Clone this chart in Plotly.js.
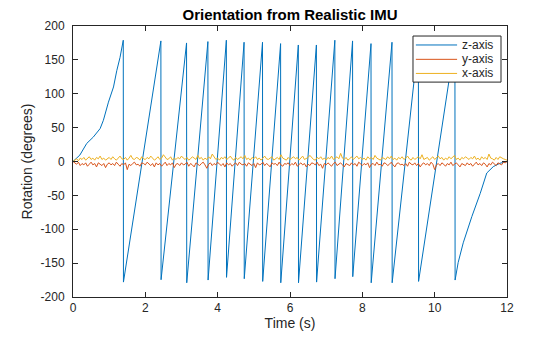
<!DOCTYPE html>
<html>
<head>
<meta charset="utf-8">
<script src="https://cdn.plot.ly/plotly-3.0.1.min.js"></script>
<style>html,body{margin:0;padding:0;background:#fff;}#chart{width:560px;height:337px;}</style>
</head>
<body>
<div id="chart"></div>
<script>
// z-axis orientation (degrees), wrapping at +/-180
const zTime = [0, 0.19, 0.38, 0.56, 0.75, 0.84, 0.98, 1.12, 1.21, 1.30, 1.39,
  1.395, 2.43, 2.435, 3.14, 3.145, 3.73, 3.735, 4.24, 4.245, 4.73, 4.735, 5.24, 5.245,
  5.74, 5.745, 6.23, 6.235, 6.73, 6.735, 7.24, 7.245, 7.73, 7.735, 8.24, 8.245,
  8.82, 8.825, 9.55, 9.555, 10.56, 10.565, 10.65, 10.79, 11.03, 11.26, 11.44, 11.62, 11.80, 12.0];
const zVal = [0, 9.5, 26.7, 36, 48.6, 60.8, 87.6, 110, 134, 153.6, 179,
  -178, 178, -174.5, 175, -179, 177, -175, 179, -171, 176, -173, 176, -177,
  174, -179, 172, -179, 172, -178, 179, -173, 178, -170, 174, -179,
  176, -179, 178, -177, 177, -175, -149, -120, -81, -47, -17, -7.6, -2.7, 0];

// noisy x-axis and y-axis orientation (degrees), one value every 0.05 s
const noiseStart = 0, noiseStep = 0.05;
const xAxisVal = [
  0,2,4,1,5,3,6,2,4,7,3,5,2,6,4,8,3,5,2,4,
  6,3,7,4,2,5,8,4,3,6,2,5,9,4,3,6,5,2,7,4,
  3,6,4,8,5,2,4,7,3,5,10,6,3,4,7,2,5,3,6,4,
  8,5,3,6,2,4,7,5,3,9,4,6,2,5,3,7,4,11,6,3,
  5,2,6,4,7,3,5,8,4,2,6,3,5,7,4,9,3,5,2,6,
  4,7,3,5,2,6,8,4,3,5,7,2,4,6,3,10,5,4,2,6,
  3,5,7,4,6,2,5,8,3,4,6,9,5,3,2,6,4,7,3,5,
  2,6,4,8,3,5,7,4,12,5,3,6,2,4,7,3,5,8,4,6,
  3,5,2,7,4,6,3,9,5,4,2,6,5,3,7,4,8,3,5,2,
  6,4,7,3,5,8,4,2,6,3,5,7,4,10,3,5,6,2,4,7,
  3,5,8,4,6,2,5,3,7,4,6,9,3,5,2,6,4,7,5,3,
  6,4,8,3,5,2,7,4,6,3,11,5,4,2,6,3,7,5,4,3,
  2];
const yAxisVal = [
  0,-2,-4,-1,-6,-3,-5,-2,-7,-4,-1,-5,-3,-8,-2,-4,-6,-3,-9,-4,
  -2,-5,-3,-6,-1,-4,-7,-3,-5,-2,-12,-4,-6,-3,-1,-5,-4,-7,-2,-3,
  -5,-1,-4,-6,-3,-8,-2,-5,-3,-7,-4,-1,-6,-3,-5,-2,-9,-4,-3,-6,
  -2,-5,-4,-1,-7,-3,-5,-8,-2,-4,-6,-3,-1,-5,-10,-4,-2,-6,-3,-5,
  -1,-4,-6,-3,-8,-2,-5,-3,-7,-4,-2,-6,-1,-4,-5,-3,-7,-2,-4,-6,
  -3,-9,-2,-5,-4,-1,-6,-3,-5,-8,-2,-4,-3,-6,-1,-5,-7,-3,-4,-2,
  -6,-3,-5,-1,-7,-4,-2,-5,-3,-8,-4,-6,-2,-3,-5,-1,-6,-4,-10,-3,
  -5,-2,-4,-7,-3,-1,-6,-4,-2,-5,-8,-3,-4,-6,-2,-5,-3,-7,-1,-4,
  -6,-3,-5,-2,-9,-4,-3,-6,-1,-5,-4,-7,-2,-3,-6,-4,-1,-5,-8,-3,
  -2,-5,-4,-6,-3,-7,-1,-4,-5,-2,-6,-3,-8,-4,-2,-5,-3,-6,-1,-4,
  -12,-5,-3,-6,-2,-4,-7,-3,-5,-1,-6,-4,-2,-5,-8,-3,-4,-6,-2,-5,
  -3,-7,-4,-1,-5,-3,-6,-2,-4,-8,-3,-5,-1,-4,-6,-2,-3,-5,-1,-2,
  0];
const noiseTime = xAxisVal.map((_, i) => +(noiseStart + i * noiseStep).toFixed(3));

const seriesNames = ['z-axis', 'y-axis', 'x-axis'];
const seriesColors = ['#0072BD', '#D95319', '#EDB120'];
const xTickVals = [0, 2, 4, 6, 8, 10, 12];
const xTickText = ['0', '2', '4', '6', '8', '10', '12'];
const yTickVals = [-200, -150, -100, -50, 0, 50, 100, 150, 200];
const yTickText = ['-200', '-150', '-100', '-50', '0', '50', '100', '150', '200'];

const FONT = 'Liberation Sans, Arial, sans-serif';
const INK = '#262626';

const traces = [
  {x: zTime, y: zVal, name: seriesNames[0], type: 'scatter', mode: 'lines',
   line: {color: seriesColors[0], width: 1}},
  {x: noiseTime, y: yAxisVal, name: seriesNames[1], type: 'scatter', mode: 'lines',
   line: {color: seriesColors[1], width: 1}},
  {x: noiseTime, y: xAxisVal, name: seriesNames[2], type: 'scatter', mode: 'lines',
   line: {color: seriesColors[2], width: 1}}
];

const axisCommon = {
  showgrid: false, zeroline: false, showline: true, mirror: 'ticks',
  linecolor: INK, linewidth: 1, ticks: 'inside', ticklen: 5,
  tickcolor: INK, tickfont: {family: FONT, size: 12, color: INK}
};

// legend box drawn in paper coordinates
const legBox = {x0: 0.7834, x1: 0.9862, y0: 0.793, y1: 0.963};
const legLine = {x0: 0.790, x1: 0.885};
const legTextX = 0.8917;
const legRowY = [0.930, 0.877, 0.825];

const shapes = [{type: 'rect', xref: 'paper', yref: 'paper', layer: 'above',
  x0: legBox.x0, x1: legBox.x1, y0: legBox.y0, y1: legBox.y1,
  fillcolor: '#ffffff', line: {color: INK, width: 1}}];
const annotations = [];
seriesNames.forEach((nm, i) => {
  shapes.push({type: 'line', xref: 'paper', yref: 'paper', layer: 'above',
    x0: legLine.x0, x1: legLine.x1, y0: legRowY[i], y1: legRowY[i],
    line: {color: seriesColors[i], width: 1}});
  annotations.push({xref: 'paper', yref: 'paper', x: legTextX, y: legRowY[i],
    xanchor: 'left', yanchor: 'middle', showarrow: false, text: nm,
    font: {family: FONT, size: 12, color: INK}});
});

const layout = {
  width: 560, height: 337,
  margin: {l: 73, r: 53, t: 26, b: 40},
  paper_bgcolor: '#ffffff', plot_bgcolor: '#ffffff',
  title: {text: '<b>Orientation from Realistic IMU</b>', x: 0.5, xref: 'paper',
          y: 1 - 15 / 337, yanchor: 'middle',
          font: {family: FONT, size: 15, color: '#000000'}},
  xaxis: Object.assign({}, axisCommon, {range: [0, 12], tickvals: xTickVals, ticktext: xTickText,
          title: {text: 'Time (s)', standoff: 2, font: {family: FONT, size: 14, color: INK}}}),
  yaxis: Object.assign({}, axisCommon, {range: [-200, 200], tickvals: yTickVals, ticktext: yTickText,
          ticklabelstandoff: 5,
          title: {text: 'Rotation (degrees)', standoff: 4, font: {family: FONT, size: 14, color: INK}}}),
  showlegend: false,
  shapes: shapes,
  annotations: annotations
};

Plotly.newPlot('chart', traces, layout, {displayModeBar: false, staticPlot: true});
</script>
</body>
</html>
